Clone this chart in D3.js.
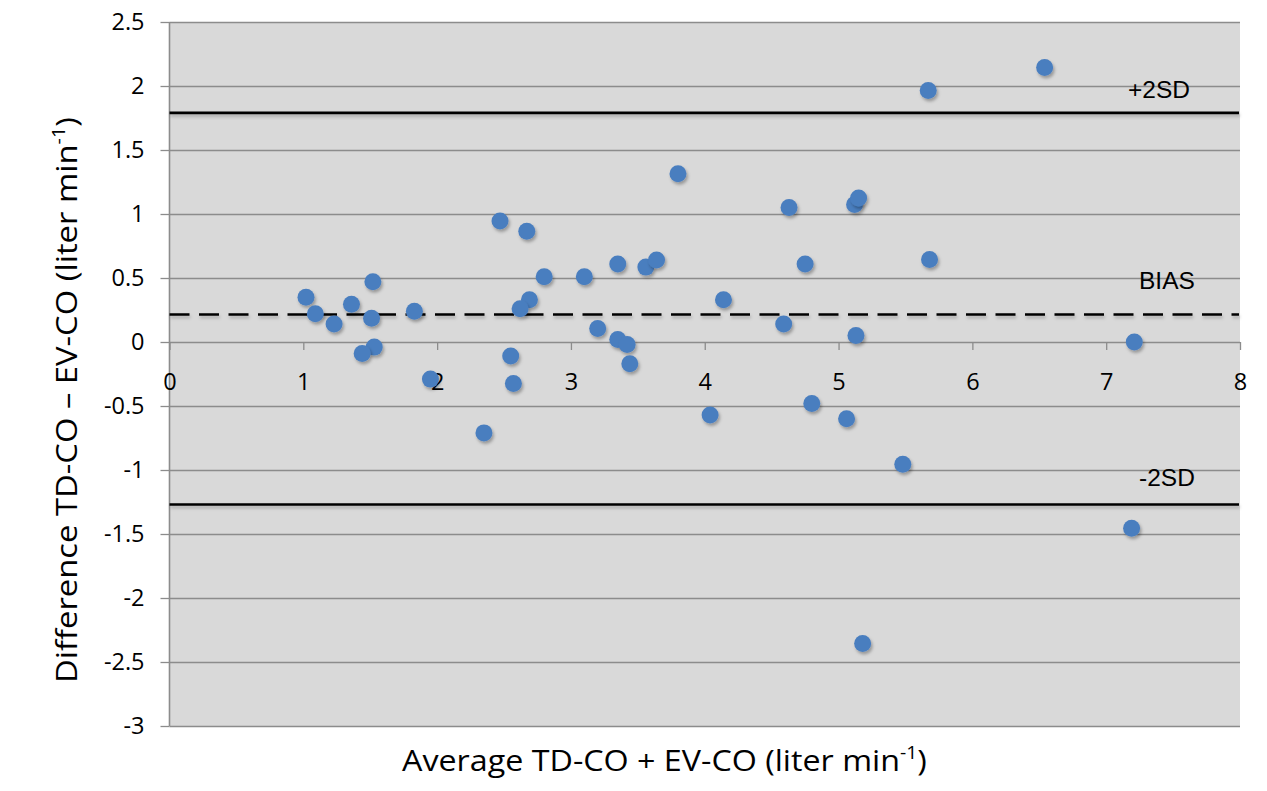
<!DOCTYPE html>
<html>
<head>
<meta charset="utf-8">
<script src="https://cdn.jsdelivr.net/npm/d3@7"></script>
<style>
  html, body { margin: 0; padding: 0; background: #ffffff; }
  svg { display: block; }
</style>
</head>
<body>
<svg id="chart" width="1267" height="791"></svg>
<script>
// ---- data ----
const avgValues = [1.02, 1.09, 1.23, 1.36, 1.52, 1.51, 1.53, 1.44, 1.83, 1.95,
  2.47, 2.67, 2.80, 2.69, 2.62, 2.55, 2.57, 2.35,
  3.10, 3.35, 3.56, 3.64, 3.80, 4.14, 3.20, 3.35, 3.42, 3.44, 4.04,
  4.63, 4.75, 4.59, 4.80, 5.06, 5.12, 5.15, 5.13, 5.68, 5.18, 5.48,
  5.67, 6.54, 7.21, 7.19];
const diffValues = [0.35, 0.22, 0.14, 0.295, 0.47, 0.185, -0.04, -0.09, 0.24, -0.29,
  0.945, 0.865, 0.51, 0.33, 0.26, -0.11, -0.325, -0.71,
  0.51, 0.61, 0.585, 0.64, 1.315, 0.33, 0.105, 0.02, -0.02, -0.17, -0.57,
  1.05, 0.61, 0.14, -0.48, -0.60, 1.075, 1.125, 0.05, 0.645, -2.355, -0.955,
  1.965, 2.145, 0.0, -1.455];
const refValues = [1.79, 0.215, -1.27];
const refLabels = ["+2SD", "BIAS", "-2SD"];
const refDashed = [false, true, false];
const xTicks = [0, 1, 2, 3, 4, 5, 6, 7, 8];
const yTicks = [2.5, 2, 1.5, 1, 0.5, 0, -0.5, -1, -1.5, -2, -2.5, -3];
const xTitle = "Average TD-CO + EV-CO (liter min";
const yTitle = "Difference TD-CO \u2013 EV-CO (liter min";

// ---- layout ----
const svg = d3.select("#chart");
const L = 169.5, R = 1240, T = 22, B = 726;
const x = d3.scaleLinear().domain([0, 8]).range([L, R]);
const y = d3.scaleLinear().domain([-3, 2.5]).range([B, T]);

const defs = svg.append("defs");
const f = defs.append("filter").attr("id", "shadow")
  .attr("x", "-50%").attr("y", "-50%").attr("width", "200%").attr("height", "200%");
f.append("feDropShadow").attr("dx", 1.5).attr("dy", 2.5).attr("stdDeviation", 1.6)
  .attr("flood-color", "#000").attr("flood-opacity", 0.3);
const fl = defs.append("filter").attr("id", "lshadow")
  .attr("filterUnits", "userSpaceOnUse")
  .attr("x", 0).attr("y", 0).attr("width", 1267).attr("height", 791);
fl.append("feDropShadow").attr("dx", 1).attr("dy", 2.5).attr("stdDeviation", 1.8)
  .attr("flood-color", "#000").attr("flood-opacity", 0.22);

// background
svg.append("rect").attr("x", L).attr("y", T).attr("width", R - L).attr("height", B - T)
  .attr("fill", "#d9d9d9");

// horizontal gridlines via y axis
const gridColor = "#8c8c8c";
const yAxis = d3.axisLeft(y).tickValues(yTicks).tickSize(-(R - L)).tickFormat("");
const gy = svg.append("g").attr("transform", `translate(${L},0)`).call(yAxis);
gy.select(".domain").remove();
gy.selectAll(".tick line").attr("stroke", gridColor).attr("stroke-width", 1.3);

// y tick marks & labels
const yAxis2 = d3.axisLeft(y).tickValues(yTicks).tickSize(9).tickPadding(16)
  .tickFormat(d => String(d));
const gy2 = svg.append("g").attr("transform", `translate(${L},0)`).call(yAxis2);
gy2.select(".domain").attr("stroke", gridColor).attr("stroke-width", 1.6)
  .attr("d", `M0,${T}V${B}`);
gy2.selectAll(".tick line").attr("stroke", gridColor).attr("stroke-width", 1.3);
gy2.selectAll(".tick text").attr("font-family", "'Open Sans', sans-serif")
  .attr("font-size", 23.5).attr("fill", "#000");

// x axis at y = 0
const xAxis = d3.axisBottom(x).tickValues(xTicks).tickSize(8).tickPadding(23)
  .tickFormat(d => String(d));
const gx = svg.append("g").attr("transform", `translate(0,${y(0)})`).call(xAxis);
gx.select(".domain").remove();
gx.selectAll(".tick line").attr("stroke", gridColor).attr("stroke-width", 1.3);
gx.selectAll(".tick text").attr("font-family", "'Open Sans', sans-serif")
  .attr("font-size", 23.5).attr("fill", "#000");

// reference lines
svg.append("g").selectAll("line").data(refValues).join("line")
  .attr("x1", L).attr("x2", R - 1)
  .attr("y1", d => y(d)).attr("y2", d => y(d))
  .attr("stroke", "#000").attr("stroke-width", 2.6)
  .attr("stroke-dasharray", (d, i) => refDashed[i] ? "20,9.5" : null)
  .attr("filter", "url(#lshadow)");

// reference labels
const labelX = [1128, 1139, 1139];
const labelDy = [-15, -25, -19];
svg.append("g").selectAll("text").data(refValues).join("text")
  .attr("x", (d, i) => labelX[i]).attr("y", (d, i) => y(d) + labelDy[i])
  .attr("font-family", "'Liberation Sans', Arial, sans-serif").attr("font-size", 24.5)
  .attr("fill", "#000").text((d, i) => refLabels[i]);

// points
const pts = avgValues.map((a, i) => ({ a, d: diffValues[i] }));
svg.append("g").selectAll("circle").data(pts).join("circle")
  .attr("cx", p => x(p.a)).attr("cy", p => y(p.d)).attr("r", 8.5)
  .attr("fill", "#4a7ebf").attr("filter", "url(#shadow)");

// axis titles
const xt = svg.append("text").attr("x", 0).attr("y", 0)
  .attr("font-family", "'Open Sans', sans-serif").attr("font-size", 30).attr("fill", "#000");
xt.append("tspan").text(xTitle);
xt.append("tspan").attr("font-size", 18).attr("dy", -12).text("-1");
xt.append("tspan").attr("dy", 12).text(")");
const xw = xt.node().getComputedTextLength();
xt.attr("transform", `translate(402,771) scale(${525 / xw},1)`);

const yt = svg.append("text").attr("x", 0).attr("y", 0)
  .attr("font-family", "'Open Sans', sans-serif").attr("font-size", 30).attr("fill", "#000");
yt.append("tspan").text(yTitle);
yt.append("tspan").attr("font-size", 18).attr("dy", -12).text("-1");
yt.append("tspan").attr("dy", 12).text(")");
const yw = yt.node().getComputedTextLength();
yt.attr("transform", `translate(77,683) rotate(-90) scale(${566 / yw},1)`);
</script>
</body>
</html>
